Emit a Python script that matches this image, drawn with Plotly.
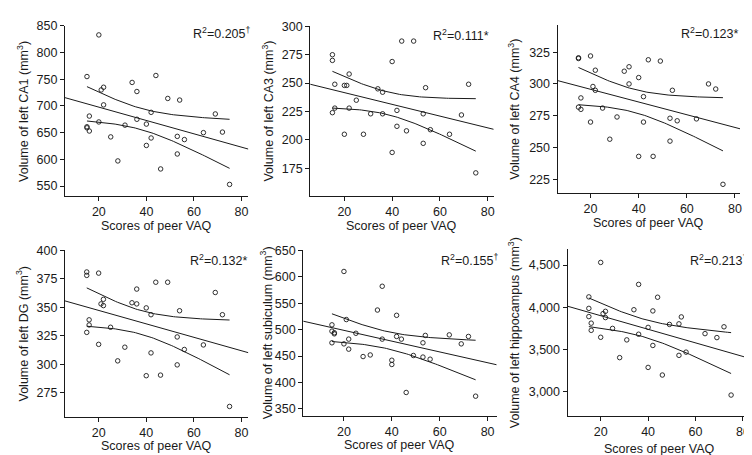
import numpy as np
import plotly.graph_objects as go

# ---------------- data ----------------
peer_vaq = [15, 15, 15, 16, 16, 20, 20, 21, 22, 22, 25, 28, 31, 34, 36, 36,
            40, 40, 42, 42, 44, 46, 49, 53, 53, 54, 56, 64, 69, 72, 75]

ca1 = [755, 659, 661, 681, 653, 833, 670, 730, 735, 702, 642, 597, 664, 744, 727, 675,
       666, 626, 688, 640, 757, 582, 714, 643, 610, 711, 637, 650, 685, 651, 553]
ca3 = [275, 270, 224, 249, 228, 248, 205, 248, 258, 228, 235, 205, 223, 245, 242, 223,
       269, 189, 226, 212, 287, 208, 287, 223, 197, 246, 209, 205, 222, 249, 171]
ca4 = [320.6, 320, 281.7, 289, 280, 322, 270, 298, 310.8, 295, 281, 256.5, 274, 310, 313.5, 300,
       305, 243, 290, 270, 319, 243, 318, 273, 255, 295, 271, 272.5, 300, 296, 221]
dg = [381, 378, 328, 339, 334.5, 380, 317.5, 353, 357, 351.5, 332.5, 303, 315, 354, 366, 353,
      349.5, 290, 343.5, 310, 372, 290.5, 372, 324, 299.5, 347, 313, 317, 363, 343.5, 263]
subiculum = [509, 497, 475, 494, 492, 610, 473, 519, 482, 463, 493, 449, 452, 537, 582, 482,
             442, 434, 527, 487, 482, 381, 451, 475, 448, 489, 444, 490, 473, 487, 374]
hippocampus = [4123, 3987, 3890, 3812, 3727, 4531, 3645, 3925, 3952, 3878, 3750, 3404, 3614, 3971, 4271, 3681,
               3762, 3288, 3957, 3548, 4119, 3198, 3797, 3804, 3431, 3886, 3469, 3688, 3641, 3769, 2961]

y_titles = ["Volume of left CA1 (mm<sup>3</sup>)", "Volume of left CA3 (mm<sup>3</sup>)",
            "Volume of left CA4 (mm<sup>3</sup>)", "Volume of left DG (mm<sup>3</sup>)",
            "Volume of left subiculum (mm<sup>3</sup>)", "Volume of left hippocampus (mm<sup>3</sup>)"]
r2_labels = ["R<sup>2</sup>=0.205<sup>†</sup>", "R<sup>2</sup>=0.111*", "R<sup>2</sup>=0.123*",
             "R<sup>2</sup>=0.132*", "R<sup>2</sup>=0.155<sup>†</sup>", "R<sup>2</sup>=0.213<sup>†</sup>"]
y_ticks = [[550, 600, 650, 700, 750, 800, 850],
           [175, 200, 225, 250, 275, 300],
           [225, 250, 275, 300, 325],
           [275, 300, 325, 350, 375, 400],
           [350, 400, 450, 500, 550, 600, 650],
           [3000, 3500, 4000, 4500]]
x_ticks = [20, 40, 60, 80]
x_title = "Scores of peer VAQ"
series = [ca1, ca3, ca4, dg, subiculum, hippocampus]

# ---------------- layout (pixel geometry) ----------------
W, H = 752, 455
panels = [
    dict(px=(57, 241), py=(11, 184), xr=(5.7, 82.9), yr=(531, 850), ytx=15, xty=214, r2=(246, 18)),
    dict(px=(303, 487), py=(11.5, 184), xr=(5.7, 82.5), yr=(150.5, 300), ytx=261, xty=214, r2=(484, 20)),
    dict(px=(551, 734), py=(10, 181), xr=(6.3, 82.1), yr=(214, 346.5), ytx=507, xty=211, r2=(734, 18)),
    dict(px=(57, 241), py=(239, 408), xr=(5.8, 82.9), yr=(254, 400), ytx=14, xty=438, r2=(242, 249)),
    dict(px=(296, 490), py=(239, 407), xr=(3.0, 83.8), yr=(337, 650), ytx=259, xty=437, r2=(494, 249)),
    dict(px=(561, 745), py=(238, 407), xr=(6.0, 83.4), yr=(2716, 4686), ytx=507, xty=441, r2=(744, 249)),
]
T_CRIT = 2.045  # t(0.975, df=29)

FONT = "Liberation Sans, Arial, sans-serif"
INK = "#1a1a1a"
FS = 12.5

fig = go.Figure()
layout = dict(width=W, height=H, margin=dict(l=0, r=0, t=0, b=0),
              paper_bgcolor="white", plot_bgcolor="white", showlegend=False,
              font=dict(family=FONT, size=FS, color=INK))
annotations = []

for i, (yv, p) in enumerate(zip(series, panels)):
    k = "" if i == 0 else str(i + 1)
    xa = np.array(peer_vaq, dtype=float)
    ya = np.array(yv, dtype=float)
    n = len(xa)
    b1, b0 = np.polyfit(xa, ya, 1)
    resid = ya - (b0 + b1 * xa)
    s = np.sqrt(np.sum(resid ** 2) / (n - 2))
    xm = xa.mean()
    sxx = np.sum((xa - xm) ** 2)
    xs = np.linspace(xa.min(), xa.max(), 80)
    fit = b0 + b1 * xs
    se = s * np.sqrt(1.0 / n + (xs - xm) ** 2 / sxx)
    xline = np.array(p["xr"])
    lw = 1.0
    fig.add_trace(go.Scatter(x=xline, y=b0 + b1 * xline, mode="lines",
                             line=dict(color=INK, width=lw), xaxis="x" + k, yaxis="y" + k,
                             hoverinfo="skip"))
    fig.add_trace(go.Scatter(x=xs, y=fit + T_CRIT * se, mode="lines",
                             line=dict(color=INK, width=lw), xaxis="x" + k, yaxis="y" + k, hoverinfo="skip"))
    fig.add_trace(go.Scatter(x=xs, y=fit - T_CRIT * se, mode="lines",
                             line=dict(color=INK, width=lw), xaxis="x" + k, yaxis="y" + k, hoverinfo="skip"))
    fig.add_trace(go.Scatter(x=peer_vaq, y=yv, mode="markers",
                             marker=dict(symbol="circle-open", size=4.5, color=INK, line=dict(width=0.9, color=INK)),
                             xaxis="x" + k, yaxis="y" + k, cliponaxis=False))

    common = dict(showline=True, linecolor=INK, linewidth=1, ticks="outside", ticklen=4,
                  tickwidth=1, tickcolor=INK, showgrid=False, zeroline=False,
                  tickfont=dict(size=FS, color=INK, family=FONT), fixedrange=True)
    layout["xaxis" + k] = dict(common, domain=[p["px"][0] / W, p["px"][1] / W], range=list(p["xr"]),
                               anchor="y" + k, tickvals=x_ticks)
    layout["yaxis" + k] = dict(common, domain=[1 - p["py"][1] / H, 1 - p["py"][0] / H], range=list(p["yr"]),
                               anchor="x" + k, tickvals=y_ticks[i],
                               tickformat=",d" if i == 5 else "d")
    cx = (p["px"][0] + p["px"][1]) / 2
    annotations.append(dict(text=x_title, x=cx / W, y=1 - p["xty"] / H, xref="paper", yref="paper",
                            showarrow=False, xanchor="center", yanchor="middle",
                            font=dict(size=FS, color=INK, family=FONT)))
    cy = (p["py"][0] + p["py"][1]) / 2
    annotations.append(dict(text=y_titles[i], x=p["ytx"] / W, y=1 - cy / H, xref="paper", yref="paper",
                            showarrow=False, textangle=-90, xanchor="center", yanchor="middle",
                            font=dict(size=FS, color=INK, family=FONT)))
    annotations.append(dict(text=r2_labels[i], x=p["r2"][0] / W, y=1 - p["r2"][1] / H, xref="paper",
                            yref="paper", showarrow=False, xanchor="right", yanchor="middle",
                            font=dict(size=FS, color=INK, family=FONT)))

layout["annotations"] = annotations
fig.update_layout(**layout)
fig.write_html("out.html")
